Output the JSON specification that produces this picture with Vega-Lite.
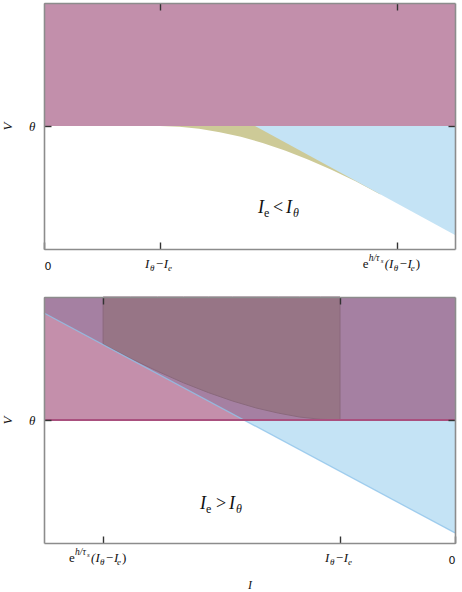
{
  "$schema": "https://vega.github.io/schema/vega-lite/v6.json",
  "padding": {"left": 1, "top": 2, "right": 6, "bottom": 2},
  "background": "white",
  "spacing": 48,
  "bounds": "flush",
  "config": {
    "view": {"stroke": null},
    "axis": {"domainColor": "#8c8c8c", "domainWidth": 1.6, "tickColor": "#333333", "tickWidth": 1.4, "tickSize": -7, "grid": false, "zindex": 1, "labelFont": "Liberation Serif", "titleFont": "Liberation Serif", "titleFontStyle": "italic", "titleFontWeight": "normal", "labelColor": "#111111", "titleColor": "#111111"},
    "text": {"font": "Liberation Serif", "fontStyle": "italic", "color": "#111111"}
  },
  "datasets": {
    "top": [
      {"r": "mag", "I": 0, "V": 0.5, "V2": 1},
      {"r": "mag", "I": 3.543, "V": 0.5, "V2": 1},
      {"r": "olive", "I": 1, "V": 0.5, "V2": 0.5},
      {"r": "olive", "I": 1.166, "V": 0.497, "V2": 0.5},
      {"r": "olive", "I": 1.338, "V": 0.489, "V2": 0.5},
      {"r": "olive", "I": 1.515, "V": 0.475, "V2": 0.5},
      {"r": "olive", "I": 1.697, "V": 0.456, "V2": 0.5},
      {"r": "olive", "I": 1.885, "V": 0.431, "V2": 0.5},
      {"r": "olive", "I": 2.077, "V": 0.4, "V2": 0.5},
      {"r": "olive", "I": 2.275, "V": 0.364, "V2": 0.5},
      {"r": "olive", "I": 2.478, "V": 0.322, "V2": 0.5},
      {"r": "olive", "I": 2.686, "V": 0.275, "V2": 0.5},
      {"r": "olive", "I": 2.9, "V": 0.222, "V2": 0.5},
      {"r": "blue", "I": 1.819, "V": 0.5, "V2": 0.5},
      {"r": "blue", "I": 3.543, "V": 0.057, "V2": 0.5},
      {"r": "lab1", "I": 1, "V": 0},
      {"r": "lab2", "I": 3.04, "V": 0},
      {"r": "ann", "I": 1.845, "V": 0.146}
    ],
    "bottom": [
      {"r": "mag", "I": -3.574, "V": 0.5, "V2": 1},
      {"r": "mag", "I": 0, "V": 0.5, "V2": 1},
      {"r": "pur", "I": -3.574, "V": 0.935, "V2": 1},
      {"r": "pur", "I": -1.835, "V": 0.5, "V2": 1},
      {"r": "pur", "I": 0, "V": 0.5, "V2": 1},
      {"r": "blue", "I": -1.835, "V": 0.5, "V2": 0.5},
      {"r": "blue", "I": 0, "V": 0.041, "V2": 0.5},
      {"r": "dark", "I": -3.06, "V": 0.809, "V2": 1},
      {"r": "dark", "I": -2.819, "V": 0.75, "V2": 1},
      {"r": "dark", "I": -2.586, "V": 0.698, "V2": 1},
      {"r": "dark", "I": -2.36, "V": 0.651, "V2": 1},
      {"r": "dark", "I": -2.142, "V": 0.611, "V2": 1},
      {"r": "dark", "I": -1.933, "V": 0.577, "V2": 1},
      {"r": "dark", "I": -1.73, "V": 0.549, "V2": 1},
      {"r": "dark", "I": -1.536, "V": 0.528, "V2": 1},
      {"r": "dark", "I": -1.35, "V": 0.512, "V2": 1},
      {"r": "dark", "I": -1.171, "V": 0.503, "V2": 1},
      {"r": "dark", "I": -1, "V": 0.5, "V2": 1},
      {"r": "edge", "I": -3.574, "V": 0.935},
      {"r": "edge", "I": 0, "V": 0.041},
      {"r": "theta", "I": -3.574, "V": 0.5},
      {"r": "theta", "I": 0, "V": 0.5},
      {"r": "lab3", "I": -3.06, "V": 0},
      {"r": "lab4", "I": -1, "V": 0},
      {"r": "ann", "I": -2.217, "V": 0.138}
    ]
  },
  "vconcat": [
    {
      "width": 411, "height": 246,
      "data": {"name": "top"},
      "resolve": {"axis": {"x": "independent", "y": "independent"}},
      "layer": [
        {"transform": [{"filter": "datum.r=='mag'"}], "mark": {"type": "area", "color": "#c28fab"},
         "encoding": {
           "x": {"field": "I", "type": "quantitative", "scale": {"domain": [0, 3.543], "nice": false, "zero": false},
                 "axis": {"orient": "bottom", "values": [0, 1, 3.04], "labelExpr": "datum.value==0?'0':''", "labelFont": "DejaVu Sans", "labelFontSize": 11, "labelPadding": 18, "title": null, "zindex": 2}},
           "y": {"field": "V", "type": "quantitative", "scale": {"domain": [0, 1], "nice": false, "zero": false},
                 "axis": {"orient": "left", "values": [0.5], "labelExpr": "'θ'", "labelFontStyle": "italic", "labelFontSize": 13, "labelPadding": 16, "title": "V", "titleFontSize": 13, "titlePadding": 14, "zindex": 2}},
           "y2": {"field": "V2"}}},
        {"transform": [{"filter": "datum.r=='olive'"}], "mark": {"type": "area", "color": "#cdca97"},
         "encoding": {"x": {"field": "I", "type": "quantitative", "axis": null}, "y": {"field": "V", "type": "quantitative", "axis": null}, "y2": {"field": "V2"}}},
        {"transform": [{"filter": "datum.r=='blue'"}], "mark": {"type": "area", "color": "#c4e3f5"},
         "encoding": {
           "x": {"field": "I", "type": "quantitative", "axis": {"orient": "top", "values": [1, 3.04], "labels": false, "ticks": true, "tickSize": -7, "title": null, "zindex": 2}},
           "y": {"field": "V", "type": "quantitative", "axis": {"orient": "right", "values": [0.5], "labels": false, "ticks": true, "tickSize": -7, "title": null, "zindex": 2}},
           "y2": {"field": "V2"}}},
        {"transform": [{"filter": "datum.r=='lab1'"}], "mark": {"type": "text", "text": "I", "align": "left", "baseline": "alphabetic", "dx": -15, "dy": 19, "fontSize": 13}, "encoding": {"x": {"field": "I", "type": "quantitative", "axis": null}, "y": {"field": "V", "type": "quantitative", "axis": null}}},
        {"transform": [{"filter": "datum.r=='lab1'"}], "mark": {"type": "text", "text": "θ", "align": "left", "baseline": "alphabetic", "dx": -10, "dy": 22, "fontSize": 9}, "encoding": {"x": {"field": "I", "type": "quantitative", "axis": null}, "y": {"field": "V", "type": "quantitative", "axis": null}}},
        {"transform": [{"filter": "datum.r=='lab1'"}], "mark": {"type": "text", "text": "−I", "align": "left", "baseline": "alphabetic", "dx": -5, "dy": 19, "fontSize": 13}, "encoding": {"x": {"field": "I", "type": "quantitative", "axis": null}, "y": {"field": "V", "type": "quantitative", "axis": null}}},
        {"transform": [{"filter": "datum.r=='lab1'"}], "mark": {"type": "text", "text": "e", "align": "left", "baseline": "alphabetic", "dx": 8, "dy": 22, "fontSize": 9}, "encoding": {"x": {"field": "I", "type": "quantitative", "axis": null}, "y": {"field": "V", "type": "quantitative", "axis": null}}},
        {"transform": [{"filter": "datum.r=='lab2'"}], "mark": {"type": "text", "text": "e", "fontStyle": "normal", "align": "left", "baseline": "alphabetic", "dx": -34, "dy": 19, "fontSize": 13}, "encoding": {"x": {"field": "I", "type": "quantitative", "axis": null}, "y": {"field": "V", "type": "quantitative", "axis": null}}},
        {"transform": [{"filter": "datum.r=='lab2'"}], "mark": {"type": "text", "text": "h/τ", "align": "left", "baseline": "alphabetic", "dx": -28, "dy": 12, "fontSize": 9.5}, "encoding": {"x": {"field": "I", "type": "quantitative", "axis": null}, "y": {"field": "V", "type": "quantitative", "axis": null}}},
        {"transform": [{"filter": "datum.r=='lab2'"}], "mark": {"type": "text", "text": "s", "align": "left", "baseline": "alphabetic", "dx": -16, "dy": 14, "fontSize": 7}, "encoding": {"x": {"field": "I", "type": "quantitative", "axis": null}, "y": {"field": "V", "type": "quantitative", "axis": null}}},
        {"transform": [{"filter": "datum.r=='lab2'"}], "mark": {"type": "text", "text": "(I", "align": "left", "baseline": "alphabetic", "dx": -12, "dy": 19, "fontSize": 13}, "encoding": {"x": {"field": "I", "type": "quantitative", "axis": null}, "y": {"field": "V", "type": "quantitative", "axis": null}}},
        {"transform": [{"filter": "datum.r=='lab2'"}], "mark": {"type": "text", "text": "θ", "align": "left", "baseline": "alphabetic", "dx": -3, "dy": 22, "fontSize": 9}, "encoding": {"x": {"field": "I", "type": "quantitative", "axis": null}, "y": {"field": "V", "type": "quantitative", "axis": null}}},
        {"transform": [{"filter": "datum.r=='lab2'"}], "mark": {"type": "text", "text": "−I", "align": "left", "baseline": "alphabetic", "dx": 2, "dy": 19, "fontSize": 13}, "encoding": {"x": {"field": "I", "type": "quantitative", "axis": null}, "y": {"field": "V", "type": "quantitative", "axis": null}}},
        {"transform": [{"filter": "datum.r=='lab2'"}], "mark": {"type": "text", "text": "e", "align": "left", "baseline": "alphabetic", "dx": 14, "dy": 22, "fontSize": 9}, "encoding": {"x": {"field": "I", "type": "quantitative", "axis": null}, "y": {"field": "V", "type": "quantitative", "axis": null}}},
        {"transform": [{"filter": "datum.r=='lab2'"}], "mark": {"type": "text", "text": ")", "fontStyle": "normal", "align": "left", "baseline": "alphabetic", "dx": 19, "dy": 19, "fontSize": 13}, "encoding": {"x": {"field": "I", "type": "quantitative", "axis": null}, "y": {"field": "V", "type": "quantitative", "axis": null}}},
        {"transform": [{"filter": "datum.r=='ann'"}], "mark": {"type": "text", "text": "I", "align": "left", "baseline": "alphabetic", "dx": 0, "dy": 0, "fontSize": 18}, "encoding": {"x": {"field": "I", "type": "quantitative", "axis": null}, "y": {"field": "V", "type": "quantitative", "axis": null}}},
        {"transform": [{"filter": "datum.r=='ann'"}], "mark": {"type": "text", "text": "e", "fontStyle": "normal", "align": "left", "baseline": "alphabetic", "dx": 6, "dy": 4, "fontSize": 12}, "encoding": {"x": {"field": "I", "type": "quantitative", "axis": null}, "y": {"field": "V", "type": "quantitative", "axis": null}}},
        {"transform": [{"filter": "datum.r=='ann'"}], "mark": {"type": "text", "text": "<", "fontStyle": "normal", "align": "left", "baseline": "alphabetic", "dx": 15, "dy": 0, "fontSize": 18}, "encoding": {"x": {"field": "I", "type": "quantitative", "axis": null}, "y": {"field": "V", "type": "quantitative", "axis": null}}},
        {"transform": [{"filter": "datum.r=='ann'"}], "mark": {"type": "text", "text": "I", "align": "left", "baseline": "alphabetic", "dx": 28, "dy": 0, "fontSize": 18}, "encoding": {"x": {"field": "I", "type": "quantitative", "axis": null}, "y": {"field": "V", "type": "quantitative", "axis": null}}},
        {"transform": [{"filter": "datum.r=='ann'"}], "mark": {"type": "text", "text": "θ", "align": "left", "baseline": "alphabetic", "dx": 35, "dy": 4, "fontSize": 12}, "encoding": {"x": {"field": "I", "type": "quantitative", "axis": null}, "y": {"field": "V", "type": "quantitative", "axis": null}}}
      ]
    },
    {
      "width": 411, "height": 246,
      "data": {"name": "bottom"},
      "resolve": {"axis": {"x": "independent", "y": "independent"}},
      "layer": [
        {"transform": [{"filter": "datum.r=='mag'"}], "mark": {"type": "area", "color": "#c48fab"},
         "encoding": {
           "x": {"field": "I", "type": "quantitative", "scale": {"domain": [-3.574, 0], "nice": false, "zero": false},
                 "axis": {"orient": "bottom", "values": [-3.06, -1, 0], "labelExpr": "datum.value==0?'0':''", "labelFont": "DejaVu Sans", "labelFontSize": 11, "labelPadding": 18, "title": "I", "titleFontSize": 12, "titlePadding": 14, "zindex": 2}},
           "y": {"field": "V", "type": "quantitative", "scale": {"domain": [0, 1], "nice": false, "zero": false},
                 "axis": {"orient": "left", "values": [0.5], "labelExpr": "'θ'", "labelFontStyle": "italic", "labelFontSize": 13, "labelPadding": 16, "title": "V", "titleFontSize": 13, "titlePadding": 14, "zindex": 2}},
           "y2": {"field": "V2"}}},
        {"transform": [{"filter": "datum.r=='pur'"}], "mark": {"type": "area", "color": "#a580a2"},
         "encoding": {"x": {"field": "I", "type": "quantitative", "axis": null}, "y": {"field": "V", "type": "quantitative", "axis": null}, "y2": {"field": "V2"}}},
        {"transform": [{"filter": "datum.r=='blue'"}], "mark": {"type": "area", "color": "#c4e3f5"},
         "encoding": {
           "x": {"field": "I", "type": "quantitative", "axis": {"orient": "top", "values": [-3.06, -1], "labels": false, "ticks": true, "tickSize": -7, "title": null, "zindex": 2}},
           "y": {"field": "V", "type": "quantitative", "axis": {"orient": "right", "values": [0.5], "labels": false, "ticks": true, "tickSize": -7, "title": null, "zindex": 2}},
           "y2": {"field": "V2"}}},
        {"transform": [{"filter": "datum.r=='dark'"}], "mark": {"type": "area", "color": "#977586", "stroke": "#8a697c", "strokeWidth": 1},
         "encoding": {"x": {"field": "I", "type": "quantitative", "axis": null}, "y": {"field": "V", "type": "quantitative", "axis": null}, "y2": {"field": "V2"}}},
        {"transform": [{"filter": "datum.r=='edge'"}], "mark": {"type": "line", "color": "#8fc3ea", "strokeWidth": 1.3, "opacity": 0.8},
         "encoding": {"x": {"field": "I", "type": "quantitative", "axis": null}, "y": {"field": "V", "type": "quantitative", "axis": null}}},
        {"transform": [{"filter": "datum.r=='theta'"}], "mark": {"type": "line", "color": "#a9507e", "strokeWidth": 2},
         "encoding": {"x": {"field": "I", "type": "quantitative", "axis": null}, "y": {"field": "V", "type": "quantitative", "axis": null}}},
        {"transform": [{"filter": "datum.r=='lab3'"}], "mark": {"type": "text", "text": "e", "fontStyle": "normal", "align": "left", "baseline": "alphabetic", "dx": -34, "dy": 19, "fontSize": 13}, "encoding": {"x": {"field": "I", "type": "quantitative", "axis": null}, "y": {"field": "V", "type": "quantitative", "axis": null}}},
        {"transform": [{"filter": "datum.r=='lab3'"}], "mark": {"type": "text", "text": "h/τ", "align": "left", "baseline": "alphabetic", "dx": -28, "dy": 12, "fontSize": 9.5}, "encoding": {"x": {"field": "I", "type": "quantitative", "axis": null}, "y": {"field": "V", "type": "quantitative", "axis": null}}},
        {"transform": [{"filter": "datum.r=='lab3'"}], "mark": {"type": "text", "text": "s", "align": "left", "baseline": "alphabetic", "dx": -16, "dy": 14, "fontSize": 7}, "encoding": {"x": {"field": "I", "type": "quantitative", "axis": null}, "y": {"field": "V", "type": "quantitative", "axis": null}}},
        {"transform": [{"filter": "datum.r=='lab3'"}], "mark": {"type": "text", "text": "(I", "align": "left", "baseline": "alphabetic", "dx": -12, "dy": 19, "fontSize": 13}, "encoding": {"x": {"field": "I", "type": "quantitative", "axis": null}, "y": {"field": "V", "type": "quantitative", "axis": null}}},
        {"transform": [{"filter": "datum.r=='lab3'"}], "mark": {"type": "text", "text": "θ", "align": "left", "baseline": "alphabetic", "dx": -3, "dy": 22, "fontSize": 9}, "encoding": {"x": {"field": "I", "type": "quantitative", "axis": null}, "y": {"field": "V", "type": "quantitative", "axis": null}}},
        {"transform": [{"filter": "datum.r=='lab3'"}], "mark": {"type": "text", "text": "−I", "align": "left", "baseline": "alphabetic", "dx": 2, "dy": 19, "fontSize": 13}, "encoding": {"x": {"field": "I", "type": "quantitative", "axis": null}, "y": {"field": "V", "type": "quantitative", "axis": null}}},
        {"transform": [{"filter": "datum.r=='lab3'"}], "mark": {"type": "text", "text": "e", "align": "left", "baseline": "alphabetic", "dx": 14, "dy": 22, "fontSize": 9}, "encoding": {"x": {"field": "I", "type": "quantitative", "axis": null}, "y": {"field": "V", "type": "quantitative", "axis": null}}},
        {"transform": [{"filter": "datum.r=='lab3'"}], "mark": {"type": "text", "text": ")", "fontStyle": "normal", "align": "left", "baseline": "alphabetic", "dx": 19, "dy": 19, "fontSize": 13}, "encoding": {"x": {"field": "I", "type": "quantitative", "axis": null}, "y": {"field": "V", "type": "quantitative", "axis": null}}},
        {"transform": [{"filter": "datum.r=='lab4'"}], "mark": {"type": "text", "text": "I", "align": "left", "baseline": "alphabetic", "dx": -15, "dy": 19, "fontSize": 13}, "encoding": {"x": {"field": "I", "type": "quantitative", "axis": null}, "y": {"field": "V", "type": "quantitative", "axis": null}}},
        {"transform": [{"filter": "datum.r=='lab4'"}], "mark": {"type": "text", "text": "θ", "align": "left", "baseline": "alphabetic", "dx": -10, "dy": 22, "fontSize": 9}, "encoding": {"x": {"field": "I", "type": "quantitative", "axis": null}, "y": {"field": "V", "type": "quantitative", "axis": null}}},
        {"transform": [{"filter": "datum.r=='lab4'"}], "mark": {"type": "text", "text": "−I", "align": "left", "baseline": "alphabetic", "dx": -5, "dy": 19, "fontSize": 13}, "encoding": {"x": {"field": "I", "type": "quantitative", "axis": null}, "y": {"field": "V", "type": "quantitative", "axis": null}}},
        {"transform": [{"filter": "datum.r=='lab4'"}], "mark": {"type": "text", "text": "e", "align": "left", "baseline": "alphabetic", "dx": 8, "dy": 22, "fontSize": 9}, "encoding": {"x": {"field": "I", "type": "quantitative", "axis": null}, "y": {"field": "V", "type": "quantitative", "axis": null}}},
        {"transform": [{"filter": "datum.r=='ann'"}], "mark": {"type": "text", "text": "I", "align": "left", "baseline": "alphabetic", "dx": 0, "dy": 0, "fontSize": 18}, "encoding": {"x": {"field": "I", "type": "quantitative", "axis": null}, "y": {"field": "V", "type": "quantitative", "axis": null}}},
        {"transform": [{"filter": "datum.r=='ann'"}], "mark": {"type": "text", "text": "e", "fontStyle": "normal", "align": "left", "baseline": "alphabetic", "dx": 6, "dy": 4, "fontSize": 12}, "encoding": {"x": {"field": "I", "type": "quantitative", "axis": null}, "y": {"field": "V", "type": "quantitative", "axis": null}}},
        {"transform": [{"filter": "datum.r=='ann'"}], "mark": {"type": "text", "text": ">", "fontStyle": "normal", "align": "left", "baseline": "alphabetic", "dx": 16, "dy": 0, "fontSize": 18}, "encoding": {"x": {"field": "I", "type": "quantitative", "axis": null}, "y": {"field": "V", "type": "quantitative", "axis": null}}},
        {"transform": [{"filter": "datum.r=='ann'"}], "mark": {"type": "text", "text": "I", "align": "left", "baseline": "alphabetic", "dx": 29, "dy": 0, "fontSize": 18}, "encoding": {"x": {"field": "I", "type": "quantitative", "axis": null}, "y": {"field": "V", "type": "quantitative", "axis": null}}},
        {"transform": [{"filter": "datum.r=='ann'"}], "mark": {"type": "text", "text": "θ", "align": "left", "baseline": "alphabetic", "dx": 36, "dy": 4, "fontSize": 12}, "encoding": {"x": {"field": "I", "type": "quantitative", "axis": null}, "y": {"field": "V", "type": "quantitative", "axis": null}}}
      ]
    }
  ]
}
